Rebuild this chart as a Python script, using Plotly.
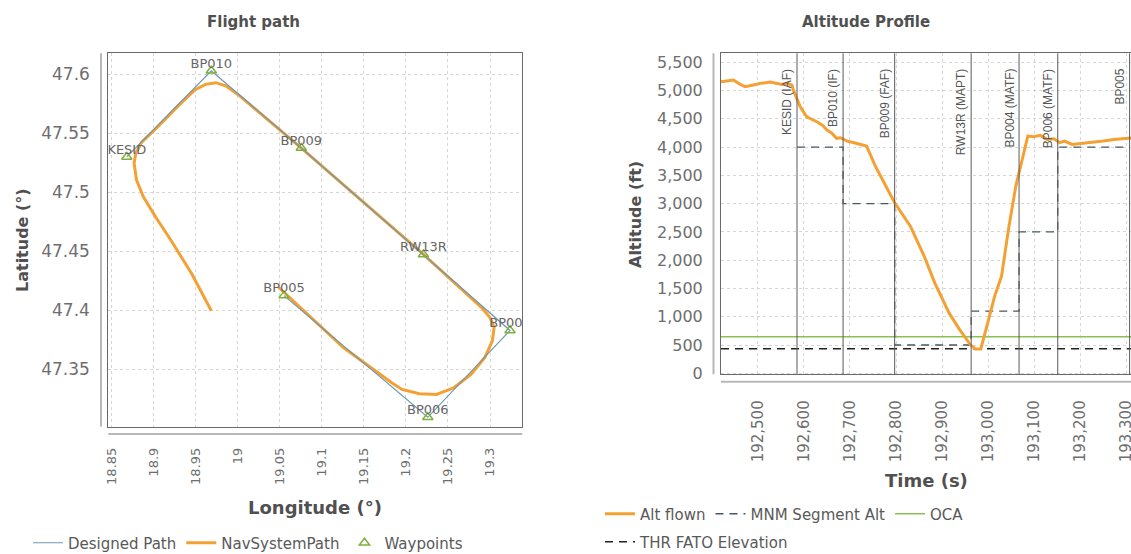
import plotly.graph_objects as go

# ---------------- Flight path (left) ----------------
wp_names = ["KESID", "BP010", "BP009", "RW13R", "BP004", "BP006", "BP005"]
wp_lon = [18.868, 18.9685, 19.0756, 19.2208, 19.3238, 19.226, 19.055]
wp_lat = [47.530, 47.603, 47.5375, 47.4474, 47.383, 47.3094, 47.4125]

nav_lon = [18.9685, 18.9452, 18.9205, 18.9021, 18.8877, 18.8795, 18.8767, 18.8787,
           18.8857, 18.9041, 18.9288, 18.9493, 18.9616, 18.9739, 18.9862, 19.0026,
           19.0756, 19.2208, 19.2897, 19.3, 19.3049, 19.3028, 19.2938, 19.2774,
           19.2569, 19.2364, 19.2159, 19.1954, 19.1831, 19.1256, 19.0485]
nav_lat = [47.3997, 47.431, 47.4594, 47.4793, 47.4963, 47.5105, 47.5247, 47.5332,
           47.5425, 47.555, 47.573, 47.587, 47.5915, 47.5929, 47.59, 47.5815,
           47.5375, 47.4474, 47.4026, 47.394, 47.3855, 47.3742, 47.36, 47.3457,
           47.3344, 47.3287, 47.3293, 47.333, 47.3386, 47.3685, 47.4196]

lon_ticks = [18.85, 18.9, 18.95, 19.0, 19.05, 19.1, 19.15, 19.2, 19.25, 19.3]
lon_tick_text = ["18.85", "18.9", "18.95", "19", "19.05", "19.1", "19.15", "19.2", "19.25", "19.3"]
lat_ticks = [47.35, 47.4, 47.45, 47.5, 47.55, 47.6]
lat_tick_text = ["47.35", "47.4", "47.45", "47.5", "47.55", "47.6"]

# ---------------- Altitude profile (right) ----------------
alt_time = [192420, 192435, 192447, 192460, 192472, 192490, 192505, 192527, 192540,
            192552, 192565, 192574, 192577, 192585, 192592, 192606, 192617, 192628,
            192640, 192650, 192660, 192671, 192679, 192694, 192709, 192724, 192736,
            192755, 192778, 192797, 192831, 192861, 192884, 192915, 192938, 192961,
            192972, 192984, 192999, 193014, 193029, 193044, 193060, 193076, 193086,
            193098, 193113, 193128, 193143, 193155, 193166, 193182, 193205, 193227,
            193250, 193273, 193310]
alt_ft = [5157, 5170, 5187, 5120, 5068, 5100, 5128, 5151, 5125,
          5110, 5130, 5098, 5010, 4863, 4715, 4538, 4500, 4449,
          4390, 4302, 4250, 4156, 4166, 4107, 4078, 4048, 4019,
          3665, 3311, 3016, 2603, 2071, 1599, 1068, 773, 508,
          431, 431, 891, 1363, 1717, 2543, 3311, 3842, 4196,
          4184, 4208, 4137, 4149, 4080, 4107, 4048, 4066, 4078,
          4107, 4137, 4160]

marker_times = [192585, 192685, 192797, 192963, 193067, 193151, 193307]
marker_labels = ["KESID (IAF)", "BP010 (IF)", "BP009 (FAF)", "RW13R (MAPT)",
                 "BP004 (MATF)", "BP006 (MATF)", "BP005"]
mnm_alt = [4000, 3000, 500, 1100, 2500, 4000, 4000]
oca_ft = 645
thr_ft = 435

alt_ticks = list(range(0, 5501, 500))
time_ticks = list(range(192500, 193301, 100))

# ---------------- geometry (pixels) ----------------
W, H = 1131, 554
def px(x):
    return x / W
def py(y):
    return (H - y) / H

L_x0, L_x1, L_y0, L_y1 = 108.3, 522.3, 53.3, 426.5
R_x0, R_x1, R_y0, R_y1 = 721.0, 1131.0, 53.3, 374.3

ORANGE = "#f5a033"
BLUE = "#6b98b2"
GREEN = "#7db03c"
TXT = "#595959"
TICK = "#6e6e6e"
FONT = "DejaVu Sans"

fig = go.Figure()

# Left chart traces
fig.add_trace(go.Scatter(x=nav_lon, y=nav_lat, mode="lines", name="NavSystemPath",
                         line=dict(color=ORANGE, width=3), legend="legend", legendrank=2))
fig.add_trace(go.Scatter(x=wp_lon, y=wp_lat, mode="lines", name="Designed Path",
                         line=dict(color=BLUE, width=1.2), legend="legend", legendrank=1))
fig.add_trace(go.Scatter(x=wp_lon, y=wp_lat, mode="markers", name="Waypoints",
                         marker=dict(symbol="triangle-up-open", size=9, color=GREEN,
                                     line=dict(width=1.5, color=GREEN)),
                         legend="legend", legendrank=3))
fig.add_trace(go.Scatter(x=wp_lon, y=wp_lat, mode="text", text=wp_names,
                         textposition="top center", showlegend=False,
                         textfont=dict(family=FONT, size=13, color="#666")))

# Right chart traces
fig.add_trace(go.Scatter(x=[alt_time[0], alt_time[-1]], y=[oca_ft, oca_ft], mode="lines",
                         name="OCA", line=dict(color="#8cc152", width=1.5),
                         xaxis="x2", yaxis="y2", legend="legend2", legendrank=3))
fig.add_trace(go.Scatter(x=[alt_time[0], alt_time[-1]], y=[thr_ft, thr_ft], mode="lines",
                         name="THR FATO Elevation",
                         line=dict(color="#222", width=1.5, dash="8px,6px"),
                         xaxis="x2", yaxis="y2", legend="legend3", legendrank=4))
fig.add_trace(go.Scatter(x=marker_times, y=mnm_alt, mode="lines", line_shape="hv",
                         name="MNM Segment Alt",
                         line=dict(color="#46585f", width=1.3, dash="8px,6px"),
                         xaxis="x2", yaxis="y2", legend="legend2", legendrank=2))
fig.add_trace(go.Scatter(x=alt_time, y=alt_ft, mode="lines", name="Alt flown",
                         line=dict(color=ORANGE, width=3),
                         xaxis="x2", yaxis="y2", legend="legend2", legendrank=1))

shapes = []
annotations = []
for t, lab in zip(marker_times, marker_labels):
    shapes.append(dict(type="line", xref="x2", yref="y2 domain", x0=t, x1=t, y0=0, y1=1,
                       line=dict(color="#5a5a5a", width=1), layer="above"))
    annotations.append(dict(x=t, y=(R_y1 - 67) / (R_y1 - R_y0), xref="x2", yref="y2 domain",
                            text=lab, textangle=-90, showarrow=False,
                            xanchor="right", yanchor="top", xshift=-1,
                            font=dict(family="Liberation Sans", size=12, color="#555")))

# offset axis lines (JFreeChart style)
AX = "#b8b8b8"
shapes += [
    dict(type="line", xref="paper", yref="paper", x0=px(101), x1=px(101), y0=py(L_y0), y1=py(L_y1),
         line=dict(color=AX, width=2)),
    dict(type="line", xref="paper", yref="paper", x0=px(L_x0), x1=px(L_x1), y0=py(434), y1=py(434),
         line=dict(color=AX, width=2)),
    dict(type="line", xref="paper", yref="paper", x0=px(713.5), x1=px(713.5), y0=py(R_y0), y1=py(R_y1),
         line=dict(color=AX, width=2)),
    dict(type="line", xref="paper", yref="paper", x0=px(R_x0), x1=px(R_x1), y0=py(381.7), y1=py(381.7),
         line=dict(color=AX, width=2)),
]

# titles and axis titles
def ann(x, y, text, size, bold=False, angle=0):
    return dict(x=px(x), y=py(y), xref="paper", yref="paper", text=f"<b>{text}</b>" if bold else text,
                showarrow=False, xanchor="center", yanchor="middle", textangle=angle,
                font=dict(family=FONT, size=size, color="#505050"))

annotations += [
    ann(253, 22, "Flight path", 15, bold=True),
    ann(866, 22, "Altitude Profile", 15, bold=True),
    ann(22, 240, "Latitude (°)", 16, bold=True, angle=-90),
    ann(315, 507, "Longitude (°)", 18, bold=True),
    ann(635, 214, "Altitude (ft)", 16, bold=True, angle=-90),
    ann(926, 480, "Time (s)", 18, bold=True),
]

grid = dict(showgrid=True, gridcolor="#d6d6d6", griddash="dot", gridwidth=1,
            zeroline=False, ticks="", automargin=False, showline=True,
            linecolor="#6a6a6a", linewidth=1)

fig.update_layout(
    width=W, height=H,
    margin=dict(l=0, r=0, t=0, b=0, autoexpand=False),
    paper_bgcolor="white", plot_bgcolor="white",
    font=dict(family=FONT, color=TXT),
    xaxis=dict(domain=[px(L_x0), px(L_x1)], range=[18.846, 19.3384], anchor="y",
               tickvals=lon_ticks, ticktext=lon_tick_text, tickangle=-90,
               tickfont=dict(size=13, color=TICK), ticklabelstandoff=15, mirror=True, **grid),
    yaxis=dict(domain=[py(L_y1), py(L_y0)], range=[47.3016, 47.6178], anchor="x",
               tickvals=lat_ticks, ticktext=lat_tick_text,
               tickfont=dict(size=17, color=TICK), ticklabelstandoff=14, mirror=True, **grid),
    xaxis2=dict(domain=[px(R_x0), 1.0], range=[192420, 193310], anchor="y2",
                tickvals=time_ticks, tickformat=",", tickangle=-90, ticklabeloverflow="allow",
                tickfont=dict(size=15, color=TICK), ticklabelstandoff=19, mirror=True, **grid),
    yaxis2=dict(domain=[py(R_y1), py(R_y0)], range=[-18, 5660], anchor="x2",
                tickvals=alt_ticks, tickformat=",",
                tickfont=dict(size=16, color=TICK), ticklabelstandoff=14, **grid),
    shapes=shapes,
    annotations=annotations,
    legend=dict(orientation="h", x=px(28), y=py(543), xanchor="left", yanchor="middle",
                font=dict(family=FONT, size=15, color=TXT), bgcolor="rgba(0,0,0,0)",
                itemwidth=30, tracegroupgap=0),
    legend2=dict(orientation="h", x=px(600), y=py(514), xanchor="left", yanchor="middle",
                 font=dict(family=FONT, size=15, color=TXT), bgcolor="rgba(0,0,0,0)",
                 itemwidth=30),
    legend3=dict(orientation="h", x=px(600), y=py(542), xanchor="left", yanchor="middle",
                 font=dict(family=FONT, size=15, color=TXT), bgcolor="rgba(0,0,0,0)",
                 itemwidth=30),
)

fig.write_html("out.html")
